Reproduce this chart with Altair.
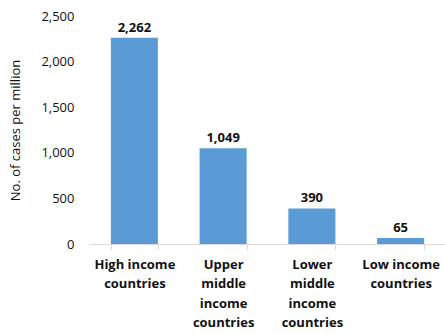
import altair as alt
import pandas as pd

categories = ["High income countries", "Upper middle income countries",
              "Lower middle income countries", "Low income countries"]
label_lines = [["High income", "countries"],
               ["Upper", "middle", "income", "countries"],
               ["Lower", "middle", "income", "countries"],
               ["Low income", "countries"]]
values = [2262, 1049, 390, 65]
y_ticks = [0, 500, 1000, 1500, 2000, 2500]

df = pd.DataFrame({"category": categories, "value": values})

expr = "''"
for cat, lines in reversed(list(zip(categories, label_lines))):
    arr = "[" + ",".join("'" + l + "'" for l in lines) + "]"
    expr = f"datum.value == '{cat}' ? {arr} : ({expr})"

FONT = "Open Sans"
base = alt.Chart(df).encode(
    x=alt.X("category:N", sort=categories, title=None,
            scale=alt.Scale(paddingInner=0.47, paddingOuter=0.235),
            axis=alt.Axis(labelExpr=expr, labelAngle=0, labelFontWeight="bold",
                          labelFont=FONT, labelFontSize=13, labelColor="#111",
                          labelLineHeight=19.5, labelPadding=9, labelBaseline="top",
                          tickBand="extent", tickSize=5, tickColor="#d9d9d9",
                          domainColor="#d9d9d9", labelLimit=200)),
    y=alt.Y("value:Q", title="No. of cases per million",
            scale=alt.Scale(domain=[0, 2500], nice=False),
            axis=alt.Axis(values=y_ticks, format=",.0f", grid=False, domain=False,
                          ticks=False, labelFont=FONT, labelFontSize=13,
                          labelColor="#111", labelPadding=16, titleFont=FONT,
                          titleFontSize=13, titleFontWeight="normal",
                          titleColor="#111", titlePadding=18)),
)

bars = base.mark_bar(color="#5B9BD5")
text = base.mark_text(dy=-6, baseline="alphabetic", fontWeight="bold", font=FONT,
                      fontSize=13, color="#111").encode(text=alt.Text("value:Q", format=",.0f"))

chart = (bars + text).properties(
    width=355, height=228,
    padding={"left": 90, "top": 16, "right": 0, "bottom": 89},
    autosize=alt.AutoSizeParams(type="none"),
).configure_view(stroke=None)

chart.save("out.html", embed_options={"renderer": "svg", "actions": False})
